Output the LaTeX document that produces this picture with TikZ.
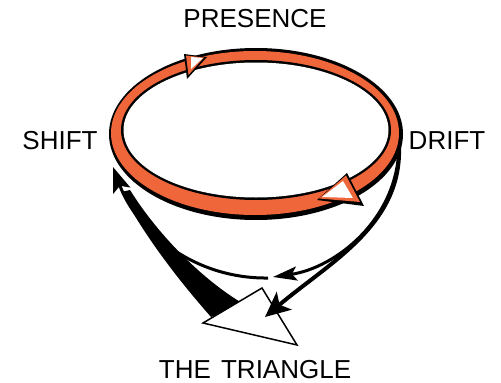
\documentclass[tikz,border=0pt]{standalone}
\usepackage{fontspec}
\setmainfont{Liberation Sans}
\usetikzlibrary{arrows.meta}
\definecolor{anneau}{RGB}{238,102,58}
\tikzset{
  etiquette/.style={font=\fontsize{26}{26}\selectfont, inner sep=0pt},
}
\begin{document}
\begin{tikzpicture}[x=1pt,y=-1pt]
        \useasboundingbox (0,0) rectangle (501,383);
        % Étiquettes
        \node[etiquette] (presence) at (255,19) {PRESENCE};
        \node[etiquette] (shift) at (60,141) {SHIFT};
        \node[etiquette] (drift) at (447,141) {DRIFT};
        \node[etiquette] (titre) at (255,370) {THE\hspace{3pt} TRIANGLE};
        % Points d'accroche
        \coordinate (depart) at (399,146);
        \coordinate (milieu) at (273,277);
        \coordinate (pointe) at (265,317);
        \coordinate (retour) at (113,167);
        \coordinate (coupure) at (268,278);
        % Coin du triangle
        \coordinate (t1) at (203,323);
        \coordinate (t2) at (262,288);
        \coordinate (t3) at (297,345);
        % Coin noir vers SHIFT (sous le triangle)
        \fill (211,317) .. controls (175,276) and (145,236) .. (121,192)
              -- (130,190) .. controls (160,238) and (205,281) .. (242,303) -- cycle;
        % Triangle
        \draw[fill=white, line width=1.5pt, line join=miter] (t1) -- (t2) -- (t3) -- cycle;
        % Courbes de DRIFT vers le bas
        \draw[line width=3pt, -{Stealth[length=24pt,width=14pt,inset=5pt]}]
              (depart) .. controls (398,220) and (335,268) .. (milieu);
        \draw[line width=4pt, -{Stealth[length=25pt,width=23pt,inset=6pt]}]
              (depart) .. controls (402,225) and (330,262) .. (pointe);
        % Retour vers SHIFT
        \draw[line width=3pt, -{Stealth[length=25pt,width=18pt,inset=5pt]}]
              (coupure) .. controls (195,279) and (137,232) .. (retour);
        % Anneau : ombre, bande orange, intérieur
        \fill (256,134) ellipse [x radius=147pt, y radius=86pt];
        \fill[anneau] (255,133) ellipse [x radius=144pt, y radius=82pt];
        \fill (256,130) ellipse [x radius=135pt, y radius=70pt];
        \fill[white] (256,130) ellipse [x radius=132.5pt, y radius=67.5pt];
        % Flèche du haut
        \fill (184,54) -- (207,57) -- (187,79) -- cycle;
        \fill[anneau] (186,55.5) -- (204,57.5) -- (188.5,75) -- cycle;
        \fill[white] (191,57) -- (203,58) -- (191,69) -- cycle;
        % Flèche du bas
        \fill (347,173) -- (364,206) -- (317,200) -- cycle;
        \fill[anneau] (346,175.5) -- (360,202) -- (319,198.5) -- cycle;
        \fill[white] (343,181) -- (353,198) -- (322,197) -- cycle;
    \end{tikzpicture}
\end{document}
